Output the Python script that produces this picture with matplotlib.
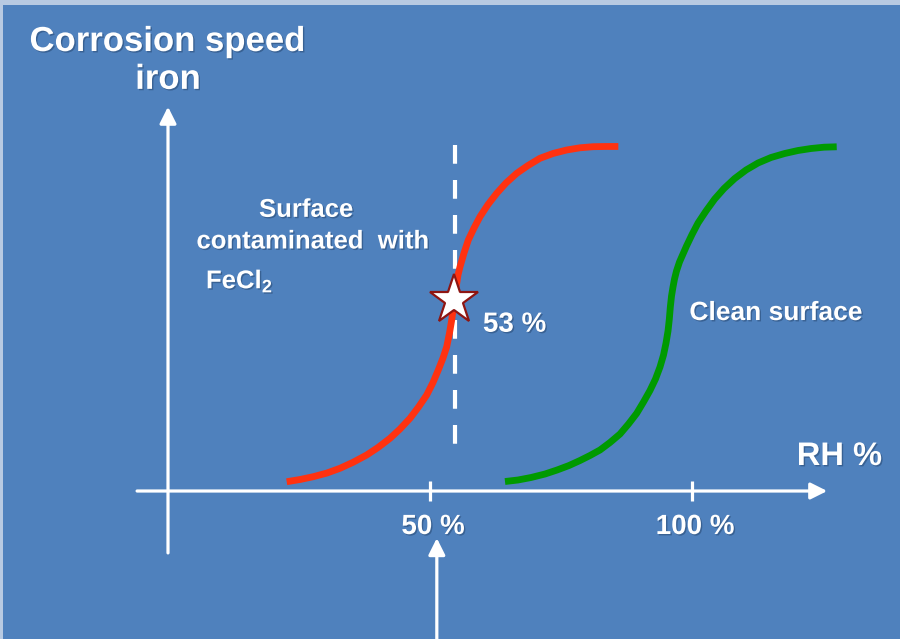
import matplotlib
matplotlib.use('Agg')
import matplotlib.pyplot as plt
import matplotlib.patheffects as pe

plt.rcParams['font.family'] = ['Liberation Sans', 'DejaVu Sans']
plt.rcParams['mathtext.default'] = 'regular'

# curves: RH (%) vs corrosion speed (arbitrary, 100 = plateau)
red_rh = [22.65, 25.19, 27.73, 30.34, 32.82, 35.31, 37.92, 40.08, 42.37, 44.27,
          46.18, 47.81, 49.37, 50.57, 51.58, 52.48, 53.19, 53.72, 54.14, 54.39,
          54.58, 54.83, 55.10, 55.34, 55.73, 56.49, 57.31, 58.40, 59.54, 61.07,
          62.73, 64.50, 66.55, 68.70, 70.99, 73.47, 76.09, 78.63, 81.16, 83.59, 85.94]
red_speed = [2.70, 3.34, 4.16, 5.23, 6.60, 8.34, 10.47, 12.65, 15.32, 18.02,
             21.13, 24.42, 27.91, 31.54, 35.17, 38.66, 41.95, 45.93, 49.71, 52.62,
             55.52, 58.43, 60.38, 62.79, 65.20, 69.19, 72.97, 76.45, 79.74, 83.28,
             86.54, 89.53, 92.35, 94.62, 96.72, 98.11, 99.13, 99.77, 100.09, 100.15, 100.15]

green_rh = [64.31, 66.79, 69.27, 71.95, 74.24, 76.53, 78.63, 80.53, 82.44, 84.35,
            86.26, 87.88, 89.45, 90.74, 91.98, 93.03, 93.89, 94.56, 95.04, 95.42,
            95.67, 95.86, 96.09, 96.37, 96.66, 97.04, 97.61, 98.28, 98.95, 100.0,
            101.15, 102.67, 104.33, 106.11, 108.15, 110.31, 112.60, 115.08, 117.69,
            120.23, 122.71, 125.19, 127.61]
green_speed = [2.76, 3.20, 3.92, 4.94, 6.10, 7.41, 8.87, 10.32, 11.92, 14.10,
               16.57, 19.48, 22.59, 25.87, 29.22, 32.56, 36.05, 39.53, 43.02, 46.51,
               50.0, 53.49, 56.69, 59.30, 61.63, 63.95, 66.57, 68.90, 71.22, 74.56,
               77.91, 81.40, 84.88, 87.94, 90.84, 93.31, 95.35, 96.95, 98.11,
               98.98, 99.56, 99.94, 100.06]

star_rh = 54.6
star_speed = 55.4
critical_rh = 54.8       # dashed line position
critical_label = '53 %'

tick_values = [50, 100]
tick_labels = ['50 %', '100 %']

BLUE = '#4F81BD'
BORDER = '#B8CAE2'
RED = '#FF3210'
GREEN = '#009A00'

fig = plt.figure(figsize=(9, 6.39), dpi=100, facecolor=BORDER)
bg = fig.add_axes([3 / 900, 0, 1 - 3 / 900, 634 / 639])
bg.set_facecolor(BLUE)
bg.set_xticks([])
bg.set_yticks([])
for s in bg.spines.values():
    s.set_visible(False)

ax = fig.add_axes([0, 0, 1, 1])
ax.set_facecolor('none')
ax.set_xlim(-32.06, 139.69)
ax.set_ylim(-43.02, 142.73)
ax.axis('off')

shadow = [pe.SimplePatchShadow(offset=(1, -1), shadow_rgbFace='#1E3A60', alpha=0.45),
          pe.Normal()]

def arrow(x0, y0, x1, y1):
    ax.annotate('', xy=(x1, y1), xytext=(x0, y0),
                arrowprops=dict(arrowstyle='-|>,head_length=0.5,head_width=0.25',
                                mutation_scale=20, lw=2.3, color='white',
                                shrinkA=0, shrinkB=0))

# axes
arrow(-5.9, 0, 125.8, 0)
arrow(0, -18.0, 0, 111.7)
arrow(51.3, -45, 51.3, -13.7)

ax.vlines(tick_values, -2.9, 2.9, colors='white', lw=2.3)
for v, lab in zip(tick_values, tick_labels):
    ax.text(v + 0.6, -12.5, lab, color='white', fontsize=20, fontweight='bold',
            ha='center', va='baseline', path_effects=shadow)

# dashed critical RH line
ax.plot([critical_rh, critical_rh], [100.6, 12.8], color='white', lw=3,
        dashes=(4.5, 3.9), dash_capstyle='butt', zorder=2)

ax.plot(red_rh, red_speed, color=RED, lw=4.9, solid_capstyle='butt',
        solid_joinstyle='round', zorder=3)
ax.plot(green_rh, green_speed, color=GREEN, lw=4.9, solid_capstyle='butt',
        solid_joinstyle='round', zorder=3)

ax.plot([star_rh], [star_speed], marker='*', ms=37, mfc='white', mec='#8E1512',
        mew=1.6, zorder=4)

# labels
ax.text(-0.1, 127.9, 'Corrosion speed', color='white', fontsize=25, fontweight='bold',
        ha='center', va='baseline', path_effects=shadow)
ax.text(0, 116.9, 'iron', color='white', fontsize=25, fontweight='bold',
        ha='center', va='baseline', path_effects=shadow)
ax.text(26.4, 79.7, 'Surface', color='white', fontsize=18.5, fontweight='bold',
        ha='center', va='baseline', path_effects=shadow)
ax.text(27.7, 70.5, 'contaminated  with', color='white', fontsize=18.5,
        fontweight='bold', ha='center', va='baseline', path_effects=shadow)
ax.text(7.25, 58.9, 'FeCl$_2$', color='white', fontsize=18.5, fontweight='bold',
        ha='left', va='baseline', path_effects=shadow)
ax.text(60.1, 46.3, critical_label, color='white', fontsize=20, fontweight='bold',
        ha='left', va='baseline', path_effects=shadow)
ax.text(99.5, 49.7, 'Clean surface', color='white', fontsize=19, fontweight='bold',
        ha='left', va='baseline', path_effects=shadow)
ax.text(120.0, 7.56, 'RH %', color='white', fontsize=23.5, fontweight='bold',
        ha='left', va='baseline', path_effects=shadow)

fig.savefig('out.png', dpi=100, facecolor=BORDER)
